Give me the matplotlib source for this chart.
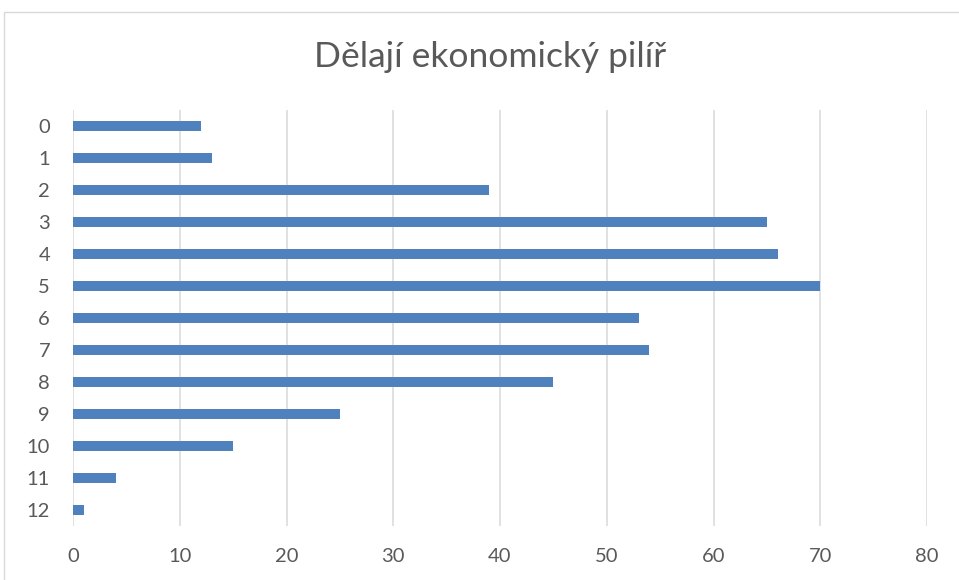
import matplotlib
matplotlib.use("Agg")
import matplotlib.pyplot as plt
from matplotlib.patches import Rectangle

categories = ["0", "1", "2", "3", "4", "5", "6", "7", "8", "9", "10", "11", "12"]
values = [12, 13, 39, 65, 66, 70, 53, 54, 45, 25, 15, 4, 1]
xticks = [0, 10, 20, 30, 40, 50, 60, 70, 80]
title = "Dělají ekonomický pilíř"

W, H = 959, 580
fig = plt.figure(figsize=(W / 100, H / 100), dpi=100)
fig.patch.set_facecolor("white")

# outer chart border (cropped at right/bottom)
fig.patches.append(Rectangle((4 / W, -0.1), 1.2, (H - 12) / H + 0.1, transform=fig.transFigure,
                             fill=False, edgecolor="#D9D9D9", linewidth=1.0))

ax = fig.add_axes([73 / W, 1 - 526 / H, (927 - 73) / W, (526 - 110) / H])
ypos = list(range(len(categories)))
ax.barh(ypos, values, height=0.34, color="#4F81BD", zorder=3)
ax.set_ylim(len(categories) - 0.5, -0.5)
ax.set_xlim(0, 80)
ax.set_xticks(xticks)
ax.set_xticklabels([str(t) for t in xticks])
ax.set_yticks(ypos)
ax.set_yticklabels(categories)
for s in ax.spines.values():
    s.set_visible(False)
ax.grid(axis="x", color="#D9D9D9", linewidth=1.1, zorder=0)
ax.tick_params(axis="both", length=0, colors="#595959", labelsize=14.5)
ax.tick_params(axis="x", pad=16)
ax.tick_params(axis="y", pad=16.5)
for lbl in ax.get_xticklabels() + ax.get_yticklabels():
    lbl.set_fontfamily("Lato")

fig.text(490 / W, 1 - 57 / H, title, ha="center", va="center", fontsize=25.5,
         color="#595959", family="Lato", fontweight="normal")

fig.savefig("out.png", dpi=100)
